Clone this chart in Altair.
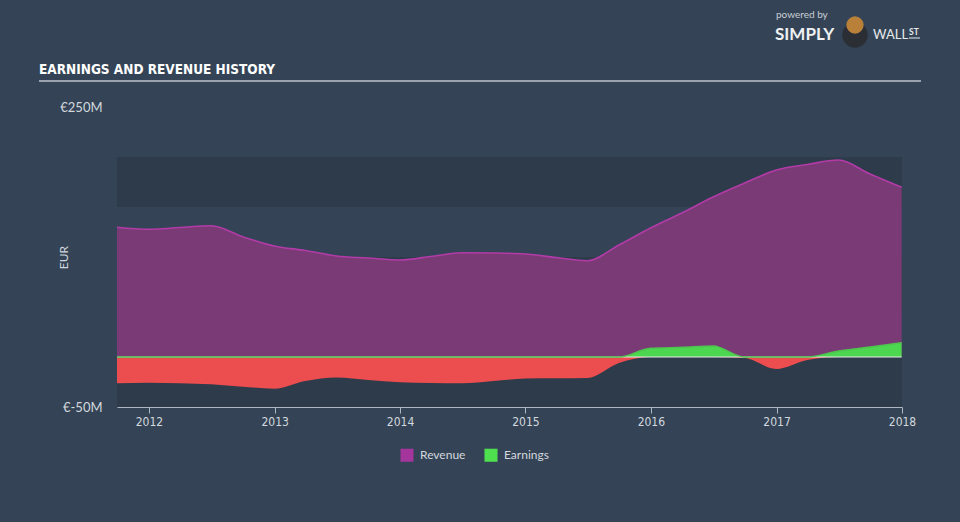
import altair as alt
import pandas as pd

# ---------------- data ----------------
quarters = ["2011-09-30", "2011-12-31", "2012-03-31", "2012-06-30", "2012-09-30",
            "2012-12-31", "2013-03-31", "2013-06-30", "2013-09-30", "2013-12-31",
            "2014-03-31", "2014-06-30", "2014-09-30", "2014-12-31", "2015-03-31",
            "2015-06-30", "2015-09-30", "2015-12-31", "2016-03-31", "2016-06-30",
            "2016-09-30", "2016-12-31", "2017-03-31", "2017-06-30", "2017-09-30",
            "2017-12-31"]
revenue = [129.7, 127.7, 129.5, 131.3, 120.3, 111.0, 106.5, 101.0, 99.0, 97.0,
           100.5, 104.3, 104.0, 103.0, 99.5, 96.3, 112.0, 129.0, 144.0, 160.0,
           174.0, 187.0, 192.5, 197.0, 183.0, 169.7]
earnings = [-26.3, -25.7, -26.3, -27.3, -29.7, -31.7, -24.0, -20.5, -23.0, -25.3,
            -26.0, -26.3, -24.0, -21.5, -21.3, -21.0, -6.0, 8.7, 9.7, 11.0,
            -1.0, -12.0, -3.0, 6.0, 10.0, 14.3]

band_lo = [-50, 50, 150]
band_hi = [0, 100, 200]

series_names = ["Revenue", "Earnings"]
series_colors = ["#a3359c", "#4fe04f"]

y_ticks = [-50, 250]
x_years = [2012, 2013, 2014, 2015, 2016, 2017, 2018]

title_text = "EARNINGS AND REVENUE HISTORY"

# ---------------- tables ----------------
df = pd.DataFrame({"date": quarters, "revenue": revenue, "earnings": earnings})
bands = pd.DataFrame({"lo": band_lo, "hi": band_hi})
legend_df = pd.DataFrame({"series": series_names})

W, H = 785, 300
PAGE = "#344456"
BAND = "#2e3b4a"
TXT = "#d3d8de"
FONT = "Lato"

yscale = alt.Scale(domain=[-50, 250], nice=False, zero=False)
xscale = alt.Scale(domain=["2011-09-30", "2018-01-01"])

x_axis = alt.Axis(values=[alt.DateTime(year=y, month=1, date=1) for y in x_years],
                  format="%Y", title=None, grid=False,
                  domainColor="#aeb7c2", domainWidth=1,
                  tickColor="#aeb7c2", tickSize=6, tickWidth=1,
                  labelColor=TXT, labelFontSize=12,
                  labelFont="DejaVu Sans Condensed", labelPadding=3,
                  labelFlush=False)
y_axis = alt.Axis(values=y_ticks, labelExpr="'€' + datum.value + 'M'",
                  grid=False, domain=False, ticks=False,
                  labelColor=TXT, labelFontSize=13, labelFont=FONT,
                  labelPadding=15, title="EUR", titleColor=TXT,
                  titleFont=FONT, titleFontSize=12, titleFontWeight="normal",
                  titleX=-54, titleY=H / 2, titleAlign="center",
                  titleBaseline="middle", titleAngle=-90)


def X():
    return alt.X("date:T", scale=xscale, axis=x_axis)


def Y(field):
    return alt.Y(field, scale=yscale, axis=y_axis)


base = alt.Chart(df)

band_layer = alt.Chart(bands).mark_rect(color=BAND).encode(
    x=alt.value(0), x2=alt.value(W),
    y=Y("lo:Q"), y2="hi:Q",
)

rev_area = base.mark_area(interpolate="monotone", color="#7a3a75").encode(
    x=X(), y=Y("revenue:Q"), y2=alt.datum(0),
)

rev_line = base.mark_line(interpolate="monotone", color="#b23ba8", strokeWidth=1.6).encode(
    x=X(), y=Y("revenue:Q"),
)

earn = base.transform_calculate(
    pos="max(datum.earnings, 0)", neg="min(datum.earnings, 0)", zero="0"
)

neg_area = earn.mark_area(interpolate="monotone", color="#ec4d4f").encode(
    x=X(), y=Y("neg:Q"), y2=alt.datum(0),
)
pos_area = earn.mark_area(interpolate="monotone", color="#4dd64f").encode(
    x=X(), y=Y("pos:Q"), y2=alt.datum(0),
)

zero_rule = earn.mark_line(color="#e8ecef", strokeWidth=1.2).encode(
    x=X(), y=Y("zero:Q"),
)

pos_line = earn.mark_line(interpolate="monotone", color="#4fc24f", strokeWidth=1.4).encode(
    x=X(), y=Y("pos:Q"),
)

legend_layer = alt.Chart(legend_df).mark_square(opacity=0, size=1).encode(
    color=alt.Color("series:N",
                    scale=alt.Scale(domain=series_names, range=series_colors),
                    legend=alt.Legend(orient="none", legendX=283, legendY=341,
                                      direction="horizontal", title=None,
                                      symbolType="square", symbolSize=170,
                                      symbolOpacity=1, symbolStrokeWidth=0,
                                      labelColor=TXT, labelFont=FONT,
                                      labelFontSize=12, labelOffset=6,
                                      columnPadding=18, padding=0)),
)

title_df = pd.DataFrame({"t": [title_text]})
title_layer = alt.Chart(title_df).mark_text(
    align="left", baseline="alphabetic", color="#ffffff", fontSize=13.5,
    fontWeight="bold", font="DejaVu Sans Condensed",
).encode(text="t:N", x=alt.value(-78), y=alt.value(-33))

title_rule = alt.Chart(title_df).mark_rule(color="#9aa3ad", strokeWidth=2).encode(
    x=alt.value(-78), x2=alt.value(804), y=alt.value(-26),
)

logo_df = pd.DataFrame({"a": ["powered by"], "b": ["SIMPLY"], "c": ["WALL"], "d": ["ST"]})
logo1 = alt.Chart(logo_df).mark_text(align="left", baseline="alphabetic", color="#c9ced4",
                                     fontSize=10, font=FONT).encode(
    text="a:N", x=alt.value(659), y=alt.value(-89))
logo2 = alt.Chart(logo_df).mark_text(align="left", baseline="alphabetic", color="#eef0f2",
                                     fontSize=17, fontWeight="bold", font=FONT).encode(
    text="b:N", x=alt.value(658), y=alt.value(-67))
logo3 = alt.Chart(logo_df).mark_text(align="left", baseline="alphabetic", color="#e6e9ec",
                                     fontSize=13, fontWeight="normal", font=FONT).encode(
    text="c:N", x=alt.value(756), y=alt.value(-68))
logo4 = alt.Chart(logo_df).mark_text(align="left", baseline="alphabetic", color="#e6e9ec",
                                     fontSize=8.5, fontWeight="bold", font=FONT).encode(
    text="d:N", x=alt.value(792), y=alt.value(-72))
logo4u = alt.Chart(logo_df).mark_rule(color="#e6e9ec", strokeWidth=1).encode(
    x=alt.value(792), x2=alt.value(803), y=alt.value(-69))
logo_body = alt.Chart(logo_df).mark_circle(color="#2b2f35", size=650, opacity=1).encode(
    x=alt.value(738), y=alt.value(-72))
logo_face = alt.Chart(logo_df).mark_circle(color="#b9803a", size=300, opacity=1).encode(
    x=alt.value(738), y=alt.value(-82))

chart = alt.layer(
    band_layer, rev_area, rev_line, neg_area, pos_area, zero_rule, pos_line,
    legend_layer, title_layer, title_rule, logo1, logo2, logo3, logo4, logo4u,
    logo_body, logo_face,
).properties(
    width=W, height=H,
    autosize=alt.AutoSizeParams(type="none"),
    padding={"left": 117, "top": 107, "right": 58, "bottom": 115},
    background=PAGE,
).configure_view(stroke=None)

chart.save("out.html", embed_options={"renderer": "svg", "actions": False})
